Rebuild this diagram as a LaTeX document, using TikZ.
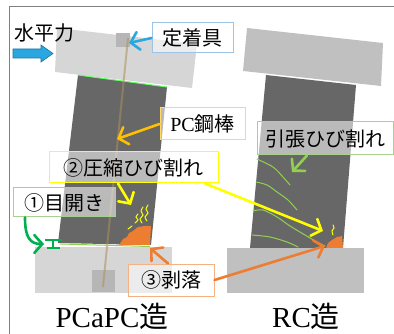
\documentclass[tikz,border=0pt]{standalone}
\usepackage{fontspec}
\setmainfont{Liberation Serif}
\newfontfamily\jpfont{Noto Sans CJK JP}
\usetikzlibrary{arrows.meta}
\definecolor{colgray}{HTML}{676767}
\definecolor{beamL}{HTML}{D6D6D6}
\definecolor{beamR}{HTML}{C0C0C0}
\definecolor{plategray}{HTML}{B6B6B6}
\definecolor{rodtan}{HTML}{A8925A}
\definecolor{forceblue}{HTML}{2AA7E0}
\definecolor{blueedge}{HTML}{9DC3E6}
\definecolor{rodyellow}{HTML}{FFC000}
\definecolor{rodedge}{HTML}{FFD966}
\definecolor{crackyellow}{HTML}{FFFF00}
\definecolor{spallorange}{HTML}{ED7D31}
\definecolor{spalledge}{HTML}{F4B183}
\definecolor{lightgreen}{HTML}{92D050}
\definecolor{greenedge}{HTML}{A9D18E}
\definecolor{opengreen}{HTML}{00B050}

\begin{document}
\begin{tikzpicture}[
    x=1pt, y=-1pt,
    label/.style={draw, line width=1pt, fill=white, fill opacity=0.55, text opacity=1,
        inner sep=0pt, font=\jpfont\fontsize{20}{24}\selectfont},
    arr/.style={line width=2.6pt, line cap=round, -{Straight Barb[length=8pt,width=18pt,line cap=round]}},
    crack/.style={line width=1pt, line cap=round},
    title/.style={font=\fontsize{29}{33}\selectfont, anchor=base}
]
\useasboundingbox (0,0) rectangle (394,334);

% frame
\draw[gray, line width=1pt] (394,7) -- (9,7) -- (9,334);

% ---- PCaPC side ----
% beam, column, foundation
\fill[beamL] (57,28) -- (197,44) -- (192,88) -- (55,72) -- cycle;
\fill[plategray] (116,33) rectangle (130,47);
\fill[colgray] (78,75) -- (167,87) -- (151,245) -- (58,243) -- cycle;
\draw[green!60, line width=1pt] (78,75) -- (167,87);
\fill[beamL] (35,247) rectangle (172,293);
\fill[plategray] (92,270) rectangle (115,292);

% PC bar through beam, column and foundation
\draw[rodtan, opacity=0.55, line width=2pt] (128,38) -- (103,287);

% opening at the joint
\draw[lightgreen, line width=1pt] (60,244) -- (150,246.5);
\draw[opengreen, line width=2pt] (45,240) -- (62,240) (47,248) -- (60,248) (53,240) -- (53,248);

% spalling and compression cracks
\fill[spallorange] (119,245) -- (123,239) -- (127,237) -- (129,233) -- (133,231)
    -- (138,227) -- (145,226) -- (151,226) -- (150,245) -- cycle;
\draw[crack, crackyellow] plot[smooth] coordinates {(135,223) (138,220) (136,217) (138,214)};
\draw[crack, crackyellow] plot[smooth] coordinates {(142,223) (140,219) (143,215) (141,211) (143,207)};
\draw[crack, crackyellow] plot[smooth] coordinates {(147,221) (145,217) (148,213) (146,209) (148,205)};
\draw[crack, crackyellow] (128,229) -- (132,226);

% ---- RC side ----
\fill[beamR] (247,28) -- (383,43) -- (381,86) -- (243,71) -- cycle;
\fill[colgray] (266,75) -- (356,85) -- (343,248) -- (250,248) -- cycle;
\fill[beamR] (227,248) rectangle (364,293);

% tension cracks
\draw[crack, lightgreen] plot[smooth] coordinates {(257,159) (273,167) (283,177) (290,185)};
\draw[crack, lightgreen] plot[smooth] coordinates {(256,182) (267,185) (277,192) (288,200) (297,210)};
\draw[crack, lightgreen] plot[smooth] coordinates {(253,211) (263,210) (277,217) (290,226) (305,235) (317,242) (325,246)};
\draw[crack, lightgreen] plot[smooth] coordinates {(252,235) (270,237) (287,242) (298,247)};

\fill[spallorange] (326,248) -- (328,243) -- (332,240) -- (337,237) -- (342,236) -- (343,248) -- cycle;
\draw[crack, crackyellow] plot[smooth] coordinates {(333,235) (332,231) (334,228) (333,225)};

% horizontal force
\node[font=\jpfont\fontsize{20}{24}\selectfont] (force) at (44,33) {水平力};
\filldraw[fill=forceblue, draw=forceblue!70!black, line width=0.6pt]
    (13,49) -- (41,49) -- (41,45) -- (53,53.5) -- (41,62) -- (41,58) -- (13,58) -- cycle;

% target points
\coordinate (plate) at (129,43);
\coordinate (rod) at (117,139);
\coordinate (crackL) at (131,205);
\coordinate (crackR) at (323,231);
\coordinate (tensR) at (292,172);
\coordinate (gap) at (44,244);
\coordinate (spallL) at (150,248);
\coordinate (spallR) at (325,246);

% labels
\node[label, draw=blueedge, minimum width=81, minimum height=30] (anchor) at (192.5,38) {定着具};
\node[label, draw=rodedge, minimum width=85, minimum height=32] (bar) at (202.5,124) {{\rmfamily PC}鋼棒};
\node[label, draw=crackyellow, minimum width=169, minimum height=31] (comp) at (133.5,167.5) {②圧縮ひび割れ};
\node[label, draw=greenedge, minimum width=136, minimum height=33] (tens) at (325,138.5) {引張ひび割れ};
\node[label, draw=greenedge, minimum width=102, minimum height=29] (open) at (64,202.5) {①目開き};
\node[label, draw=spalledge, minimum width=86, minimum height=32] (spall) at (171,280) {③剥落};

% arrows
\draw[arr, forceblue] (anchor.west) -- (plate);
\draw[arr, rodyellow] (bar.west) -- (rod);
\draw[arr, crackyellow] ([xshift=-15.5pt]comp.south) -- (crackL);
\draw[arr, crackyellow] ([xshift=71.5pt]comp.south) -- (crackR);
\draw[arr, lightgreen] ([xshift=-18pt]tens.south) -- (tensR);
\draw[arr, opengreen] ([xshift=-39pt]open.south) .. controls +(0,20) and (30,244) .. (gap);
\draw[arr, spallorange] ([xshift=-3pt]spall.north) -- (spallL);
\draw[arr, spallorange] (spall.east) -- (spallR);

% titles
\node[title] (pcapc) at (112,327) {PCaPC{\jpfont 造}};
\node[title] (rc) at (306,327) {RC{\jpfont 造}};
\end{tikzpicture}
\end{document}
